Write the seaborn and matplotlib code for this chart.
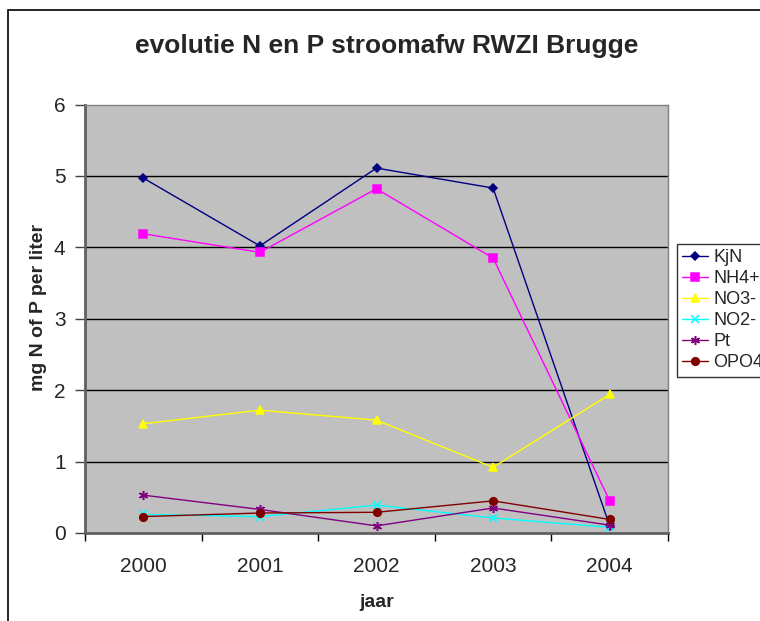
import matplotlib
matplotlib.use("Agg")
import matplotlib.pyplot as plt
import seaborn as sns
import pandas as pd
from matplotlib.patches import Rectangle
from matplotlib.ticker import FixedLocator, NullFormatter

years = ["2000", "2001", "2002", "2003", "2004"]
kjn = [4.97, 4.02, 5.11, 4.83, 0.10]
nh4 = [4.19, 3.93, 4.82, 3.85, 0.45]
no3 = [1.53, 1.72, 1.58, 0.92, 1.94]
no2 = [0.26, 0.23, 0.39, 0.21, 0.08]
pt = [0.53, 0.33, 0.10, 0.35, 0.11]
opo4 = [0.23, 0.28, 0.29, 0.45, 0.19]

series = [
    ("KjN", kjn, "#000080", "D", 4.5),
    ("NH4+", nh4, "#FF00FF", "s", 5.5),
    ("NO3-", no3, "#FFFF00", "^", 5.5),
    ("NO2-", no2, "#00FFFF", "x", 5.5),
    ("Pt", pt, "#800080", (6, 2, 0), 6.5),
    ("OPO4", opo4, "#800000", "o", 5.5),
]

sns.set_theme(style="white")
plt.rcParams["font.family"] = ["Liberation Sans", "DejaVu Sans"]

fig = plt.figure(figsize=(7.6, 6.21), dpi=100)
fig.patch.set_facecolor("white")
ax = fig.add_axes([85 / 760, 88 / 621, 583 / 760, 428.5 / 621])
ax.set_facecolor("#C0C0C0")

xs = list(range(len(years)))
for name, vals, col, mk, ms in series:
    df = pd.DataFrame({"x": xs, "y": vals})
    sns.lineplot(data=df, x="x", y="y", ax=ax, color=col, marker=mk, markersize=ms,
                 markeredgecolor=col, markerfacecolor=col, linewidth=1.0,
                 markeredgewidth=1.1, label=name, legend=False)

ax.set_xlim(-0.5, 4.5)
ax.set_ylim(0, 6)
ax.set_yticks([0, 1, 2, 3, 4, 5, 6])
ax.set_yticklabels(["0", "1", "2", "3", "4", "5", "6"], fontsize=15)
ax.xaxis.set_major_locator(FixedLocator([-0.5, 0.5, 1.5, 2.5, 3.5, 4.5]))
ax.xaxis.set_major_formatter(NullFormatter())
ax.xaxis.set_minor_locator(FixedLocator(xs))
ax.set_xticklabels(years, minor=True, fontsize=15)
ax.tick_params(axis="x", which="minor", length=0, pad=17)
ax.tick_params(axis="x", which="major", length=6, width=1, color="black", direction="out", bottom=True)
ax.tick_params(axis="y", length=7, width=1, color="#404040", direction="out", left=True, pad=7)

for yv in [1, 2, 3, 4, 5]:
    ax.axhline(yv, color="black", linewidth=1, zorder=0.5)

for s in ["left", "bottom"]:
    ax.spines[s].set_color("#606060")
    ax.spines[s].set_linewidth(2)
for s in ["top", "right"]:
    ax.spines[s].set_color("#808080")
    ax.spines[s].set_linewidth(1)

ax.set_xlabel("jaar", fontsize=14, fontweight="bold")
ax.xaxis.set_label_coords(0.5, -0.142)
ax.set_ylabel("mg N of P per liter", fontsize=14, fontweight="bold")
ax.yaxis.set_label_coords(-0.066, 0.527)

fig.text(387 / 760, 1 - 46 / 621, "evolutie N en P stroomafw RWZI Brugge",
         ha="center", va="center", fontsize=19, fontweight="bold")

h, l = ax.get_legend_handles_labels()
leg = fig.legend(h, l, loc="upper left", bbox_to_anchor=(677 / 760, 1 - 244 / 621),
                 fontsize=13, frameon=True, fancybox=False, handlelength=1.4,
                 handletextpad=0.3, labelspacing=0.22, borderpad=0.3, borderaxespad=0)
leg.get_frame().set_edgecolor("black")
leg.get_frame().set_linewidth(1)

fig.patches.append(Rectangle((8 / 760, -0.1), 1.2, 1 - 10 / 621 + 0.1,
                             transform=fig.transFigure, fill=False,
                             edgecolor="black", linewidth=1.2))

fig.savefig("out.png", dpi=100, facecolor="white")
